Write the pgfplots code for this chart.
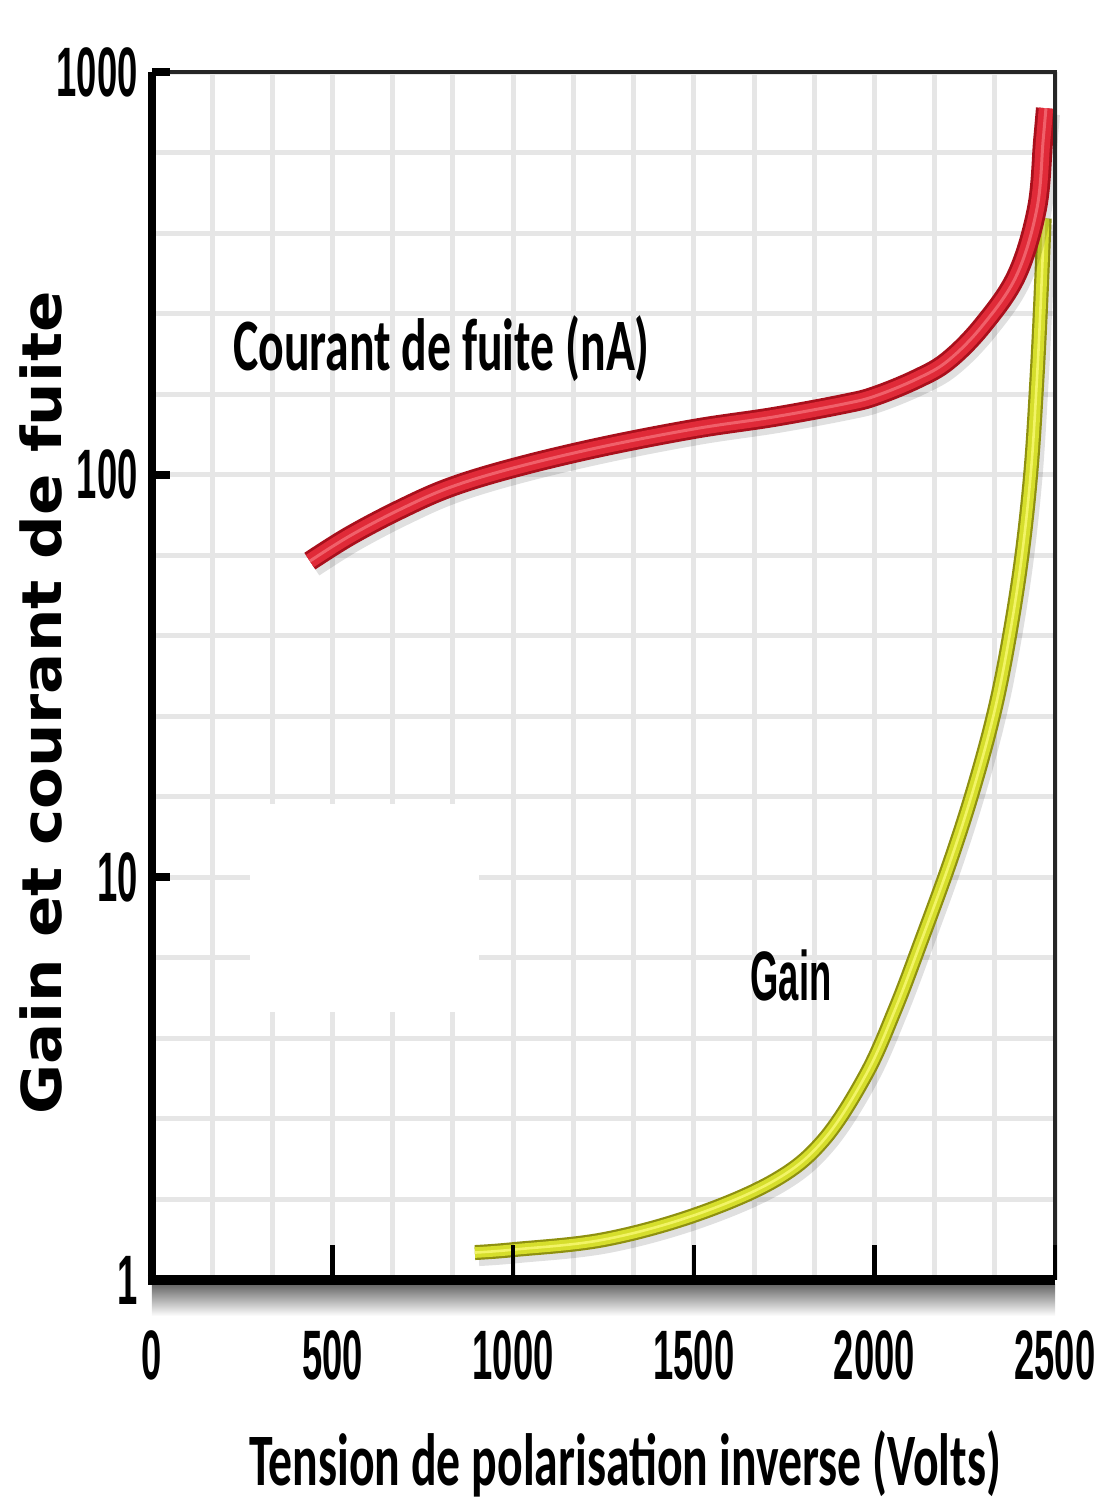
\documentclass[border=0pt]{standalone}
\usepackage{fontspec}
\setmainfont{Liberation Sans}
\newfontfamily\tickfont[FakeStretch=0.52]{Liberation Sans}
\newfontfamily\calfont[FakeStretch=0.645]{Carlito}
\newfontfamily\ylabfont[FakeStretch=1.11]{DejaVu Sans}
\usepackage{pgfplots}
\usepackage{pgfplotstable}
\pgfplotsset{compat=1.18}

\definecolor{gridgray}{HTML}{E6E6E6}
\definecolor{reddark}{HTML}{A8101C}
\definecolor{redmain}{HTML}{E02A38}
\definecolor{redhi}{HTML}{F0606A}
\definecolor{yeldark}{HTML}{8E9010}
\definecolor{yelmain}{HTML}{D6DE2C}
\definecolor{yelhi}{HTML}{F2F466}

\pgfplotstableread{
V I
437 61
548 70.5
687 82
825 93
1002 104
1240 117
1503 130
1719 139
1918 150
2004 157
2118 173
2204 192
2300 235
2394 313
2450 458
2467 674
2475 813
}\courant

\pgfplotstableread{
V G
894 1.17
1002 1.19
1251 1.26
1503 1.45
1725 1.77
1860 2.23
1977 3.24
2057 4.69
2126 6.81
2212 11.09
2278 17.0
2334 26.2
2375 40.2
2409 63.6
2434 103.5
2450 173
2461 274
2470 433
}\gain

\begin{document}
\begin{tikzpicture}
\begin{axis}[
  scale only axis,
  width=451.5pt, height=604pt,
  xmin=0, xmax=2500, ymin=1, ymax=1000,
  ymode=log,
  clip=false,
  axis line style={draw=none},
  xtick={0,500,1000,1500,2000,2500},
  xticklabels={0,500,1000,1500,2000,2500},
  minor x tick num=2,
  ytick={1,10,100,1000},
  yticklabels={1,10,100,1000},
  minor ytick={1.585,2.512,3.981,6.310,15.85,25.12,39.81,63.10,158.5,251.2,398.1,631.0},
  major tick length=0pt, minor tick length=0pt,
  grid=both,
  major grid style={gridgray, line width=2.5pt},
  minor grid style={gridgray, line width=2.5pt},
  xticklabel style={font=\tickfont\bfseries\fontsize{35pt}{36pt}\selectfont, anchor=north, inner sep=0pt, yshift=-25pt},
  yticklabel style={font=\tickfont\bfseries\fontsize{35pt}{36pt}\selectfont, anchor=east, inner sep=0pt, xshift=-7pt},
  xlabel={Tension de polarisation inverse (Volts)},
  xlabel style={font=\calfont\bfseries\fontsize{37pt}{40pt}\selectfont, at={(axis description cs:0.524,-0.170)}, anchor=base, inner sep=0pt},
  ylabel={Gain et courant de fuite},
  ylabel style={font=\ylabfont\bfseries\fontsize{27.5pt}{30pt}\selectfont, at={(axis description cs:-0.0997,0.4777)}, anchor=base, inner sep=0pt},
]
% erased patch of the grid
\fill[white] (axis cs:271,4.62) rectangle (axis cs:905,15.2);

% Gain curve
\addplot[black, opacity=0.12, line width=7.5pt, smooth, tension=0.6, xshift=2pt, yshift=-3pt, forget plot] table[x=V,y=G]{\gain};
\addplot[yeldark, line width=7.5pt, smooth, tension=0.6, line cap=butt] table[x=V,y=G]{\gain};
\addplot[yelmain, line width=5.3pt, smooth, tension=0.6, line cap=butt] table[x=V,y=G]{\gain};
\addplot[yelhi, line width=1.3pt, smooth, tension=0.6, line cap=butt] table[x=V,y=G]{\gain};

% Courant de fuite curve
\addplot[black, opacity=0.12, line width=10pt, smooth, tension=0.6, xshift=2pt, yshift=-3pt, forget plot] table[x=V,y=I]{\courant};
\addplot[reddark, line width=10pt, smooth, tension=0.6, line cap=butt] table[x=V,y=I]{\courant};
\addplot[redmain, line width=7.2pt, smooth, tension=0.6, line cap=butt] table[x=V,y=I]{\courant};
\addplot[redhi, line width=1.5pt, smooth, tension=0.6, line cap=butt] table[x=V,y=I]{\courant};

% frame
\shade[top color=black!60, bottom color=white] ([yshift=-2pt]rel axis cs:0,0) rectangle ([yshift=-18pt]rel axis cs:1,0);
\draw[black!85, line width=2pt] (rel axis cs:0,1) -- (rel axis cs:1,1) -- (rel axis cs:1,0);
\draw[black, line width=4pt] (rel axis cs:0,1) -- (rel axis cs:0,0);
\draw[black, line width=5pt] ([xshift=-2pt]rel axis cs:0,0) -- (rel axis cs:1,0);

% ticks
\draw[black, line width=2.2pt] (axis cs:500,1) -- ([yshift=17.5pt]axis cs:500,1);
\draw[black, line width=2.2pt] (axis cs:1000,1) -- ([yshift=17.5pt]axis cs:1000,1);
\draw[black, line width=2.2pt] (axis cs:1500,1) -- ([yshift=17.5pt]axis cs:1500,1);
\draw[black, line width=2.2pt] (axis cs:2000,1) -- ([yshift=17.5pt]axis cs:2000,1);
\draw[black, line width=2.2pt] (axis cs:2500,1) -- ([yshift=17.5pt]axis cs:2500,1);
\draw[black, line width=4pt] (axis cs:0,10) -- ([xshift=9pt]axis cs:0,10);
\draw[black, line width=4pt] (axis cs:0,100) -- ([xshift=9pt]axis cs:0,100);
\draw[black, line width=4pt] (axis cs:0,1000) -- ([xshift=9pt]axis cs:0,1000);

% curve labels
\node[anchor=base west, inner sep=0pt, font=\calfont\bfseries\fontsize{37pt}{40pt}\selectfont] at (axis cs:224,181.5) {Courant de fuite (nA)};
\node[anchor=base west, inner sep=0pt, font=\tickfont\bfseries\fontsize{35pt}{36pt}\selectfont] at (axis cs:1656,4.94) {Gain};
\end{axis}
\pgfresetboundingbox
\useasboundingbox (-76pt,-113pt) rectangle (475pt,640pt);
\end{tikzpicture}
\end{document}
